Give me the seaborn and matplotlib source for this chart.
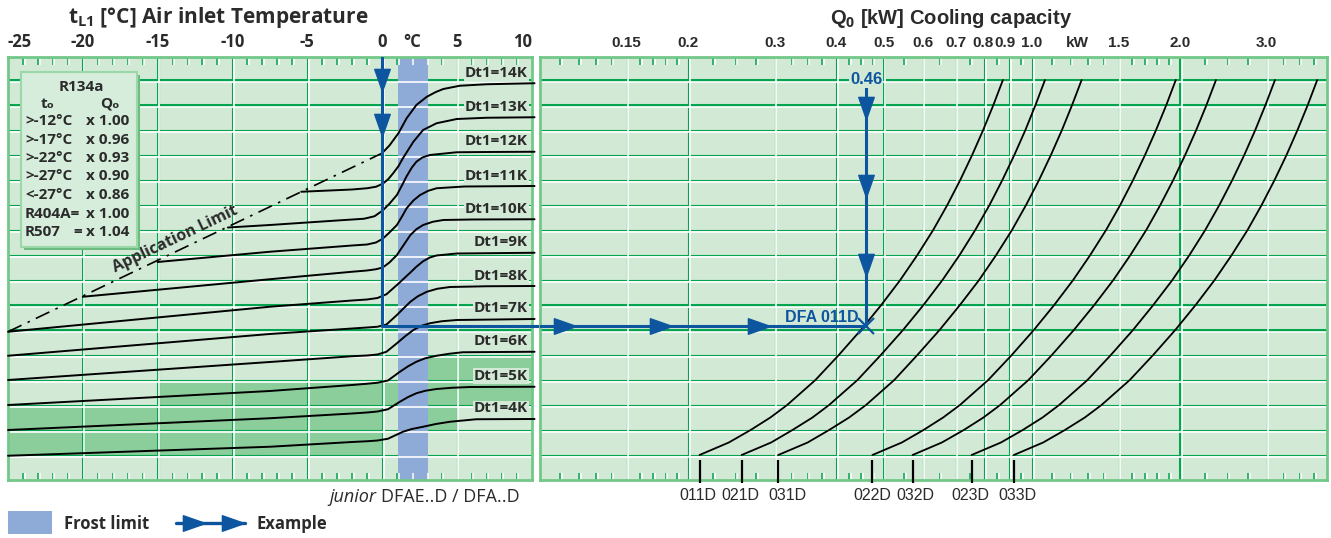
import numpy as np
import pandas as pd
import matplotlib
matplotlib.use("Agg")
import matplotlib.pyplot as plt
import matplotlib.transforms as mtransforms
from matplotlib.patches import Rectangle
from matplotlib.path import Path
from matplotlib.ticker import NullLocator
import seaborn as sns

# ---------------- values ----------------
temp_ticks = [-25, -20, -15, -10, -5, 0, 2, 5, 10]
temp_labels = ['-25', '-20', '-15', '-10', '-5', '0', '°C', '5', '10']
temp_grid = [-20, -15, -10, -5, 0, 5]

cap_ticks = [0.15, 0.2, 0.3, 0.4, 0.5, 0.6, 0.7, 0.795, 0.883, 1.0, 1.235, 1.5, 2.0, 3.0]
cap_labels = ['0.15', '0.2', '0.3', '0.4', '0.5', '0.6', '0.7', '0.8', '0.9', '1.0', 'kW', '1.5', '2.0', '3.0']
cap_grid = [0.15, 0.2, 0.3, 0.4, 0.5, 0.6, 0.7, 0.8, 0.9, 1.0, 1.5, 2.0, 3.0]

frost_limit = [1.1, 3.1]

# application limit (dash-dot)
app_t = [-25, 0]
app_y = [5.93, 13.07]

# Dt1 curves (air inlet temperature -> chart row)
dt_names = ['Dt1=14K', 'Dt1=13K', 'Dt1=12K', 'Dt1=11K', 'Dt1=10K', 'Dt1=9K',
            'Dt1=8K', 'Dt1=7K', 'Dt1=6K', 'Dt1=5K', 'Dt1=4K']
dt14_t = [0.0, 0.5, 1.1, 1.65, 2.3, 3.0, 3.6, 4.1, 5.2, 7.0, 10.2]
dt14_y = [13.07, 13.38, 13.87, 14.47, 15.00, 15.33, 15.52, 15.64, 15.77, 15.83, 15.87]
dt13_t = [-5.4, -2.0, -1.0, -0.4, 0.05, 0.4, 0.75, 1.1, 1.4, 1.75, 2.1, 2.75, 3.65, 5.0, 7.0, 10.2]
dt13_y = [11.53, 11.62, 11.67, 11.73, 11.85, 12.02, 12.27, 12.55, 12.87, 13.20, 13.53, 14.00, 14.27, 14.44, 14.49, 14.51]
dt12_t = [-10.3, -7.5, -3.0, -1.2, -0.5, 0.05, 0.5, 1.0, 1.35, 1.65, 2.0, 2.3, 2.7, 3.2, 5.0, 7.0, 10.2]
dt12_y = [10.10, 10.20, 10.38, 10.45, 10.55, 10.78, 11.05, 11.40, 11.80, 12.15, 12.50, 12.73, 12.90, 13.00, 13.11, 13.12, 13.13]
dt11_t = [-15.0, -7.5, -2.0, -1.0, -0.4, 0.05, 0.5, 1.0, 1.35, 1.65, 2.1, 2.55, 3.1, 3.65, 5.5, 10.2]
dt11_y = [8.72, 9.13, 9.38, 9.42, 9.50, 9.65, 9.90, 10.20, 10.55, 10.87, 11.18, 11.40, 11.57, 11.67, 11.74, 11.76]
dt10_t = [-20.0, -7.5, -2.0, -1.0, -0.4, 0.05, 0.5, 1.0, 1.45, 1.9, 2.3, 2.75, 3.4, 4.1, 6.0, 10.2]
dt10_y = [7.33, 8.03, 8.33, 8.38, 8.43, 8.50, 8.70, 9.00, 9.40, 9.80, 10.03, 10.20, 10.33, 10.40, 10.42, 10.43]
dt9_t = [-25.0, -7.5, -2.0, -1.0, -0.3, 0.3, 1.0, 1.45, 1.9, 2.3, 2.75, 3.2, 3.65, 5.0, 10.2]
dt9_y = [5.93, 6.93, 7.18, 7.22, 7.28, 7.43, 7.80, 8.05, 8.30, 8.53, 8.75, 8.90, 8.98, 9.06, 9.09]
dt8_t = [-25.0, -7.5, -2.0, -1.0, -0.3, 0.3, 1.0, 1.45, 1.9, 2.4, 3.0, 3.7, 4.55, 7.0, 10.2]
dt8_y = [4.97, 5.84, 6.06, 6.10, 6.13, 6.22, 6.60, 6.87, 7.13, 7.35, 7.53, 7.65, 7.72, 7.75, 7.76]
dt7_t = [-25.0, -7.5, -2.0, -1.0, -0.3, 0.3, 1.0, 1.55, 2.1, 2.6, 3.2, 4.0, 5.0, 10.2]
dt7_y = [4.00, 4.72, 4.95, 4.98, 5.02, 5.13, 5.47, 5.75, 6.00, 6.16, 6.27, 6.35, 6.40, 6.44]
dt6_t = [-25.0, -7.5, -2.0, -1.0, -0.3, 0.4, 1.2, 1.75, 2.3, 2.9, 3.65, 4.5, 5.4, 10.2]
dt6_y = [3.00, 3.56, 3.80, 3.85, 3.89, 3.98, 4.33, 4.55, 4.73, 4.87, 4.97, 5.05, 5.11, 5.13]
dt5_t = [-25.0, -7.5, -2.0, -1.0, -0.3, 0.4, 1.2, 1.75, 2.3, 2.9, 3.65, 4.7, 5.9, 10.2]
dt5_y = [2.00, 2.47, 2.66, 2.70, 2.74, 2.83, 3.13, 3.32, 3.47, 3.57, 3.64, 3.69, 3.72, 3.73]
dt4_t = [-25.0, -7.5, -2.0, -1.0, -0.3, 0.4, 1.4, 2.0, 2.75, 3.6, 4.55, 6.3, 10.2]
dt4_y = [0.97, 1.33, 1.52, 1.55, 1.58, 1.65, 1.93, 2.04, 2.13, 2.24, 2.33, 2.43, 2.44]

# darker green operating zones (temperature span x row span)
zone_t0 = [-25, -15, 0, 3.1, 5]
zone_t1 = [0, 0, 1.1, 5, 10.03]
zone_y0 = [1, 3, 3, 2, 3]
zone_y1 = [3, 4, 4, 5, 5]

# cooling capacity curves per unit (chart row -> Q0 kW)
cap_rows = [1, 1.5, 2, 2.5, 3, 4, 5, 6, 7, 8, 9, 10, 11, 12, 13, 14, 15, 16]
model_names = ['011D', '021D', '031D', '022D', '032D', '023D', '033D']
q_011d = [0.211, 0.242, 0.268, 0.294, 0.318, 0.363, 0.405, 0.449, 0.494, 0.540, 0.585, 0.630, 0.673, 0.715, 0.756, 0.796, 0.835, 0.873]
q_021d = [0.257, 0.295, 0.326, 0.358, 0.387, 0.442, 0.493, 0.547, 0.602, 0.658, 0.713, 0.767, 0.820, 0.871, 0.921, 0.970, 1.017, 1.063]
q_031d = [0.305, 0.350, 0.387, 0.425, 0.460, 0.525, 0.585, 0.649, 0.714, 0.781, 0.846, 0.911, 0.973, 1.034, 1.093, 1.151, 1.207, 1.262]
q_022d = [0.474, 0.544, 0.602, 0.660, 0.714, 0.815, 0.910, 1.009, 1.110, 1.213, 1.314, 1.415, 1.512, 1.606, 1.698, 1.788, 1.876, 1.961]
q_032d = [0.572, 0.656, 0.727, 0.797, 0.862, 0.984, 1.098, 1.217, 1.339, 1.464, 1.586, 1.708, 1.824, 1.938, 2.049, 2.158, 2.264, 2.367]
q_023d = [0.754, 0.865, 0.958, 1.051, 1.136, 1.297, 1.447, 1.605, 1.765, 1.930, 2.091, 2.251, 2.405, 2.555, 2.702, 2.845, 2.984, 3.120]
q_033d = [0.919, 1.054, 1.167, 1.281, 1.385, 1.581, 1.764, 1.956, 2.152, 2.352, 2.548, 2.744, 2.931, 3.114, 3.293, 3.467, 3.637, 3.802]

# worked example
ex_temp = 0
ex_row = 6.15
ex_q = 0.46
ex_unit = 'DFA 011D'

# refrigerant correction table
table_left = ['>-12°C', '>-17°C', '>-22°C', '>-27°C', '<-27°C', 'R404A=', 'R507']
table_right = ['x 1.00', 'x 0.96', 'x 0.93', 'x 0.90', 'x 0.86', 'x 1.00', 'x 1.04']

# ---------------- style ----------------
sns.set_style("white")
plt.rcParams['font.family'] = ['Open Sans', 'DejaVu Sans']
plt.rcParams['mathtext.fontset'] = 'custom'
plt.rcParams['mathtext.rm'] = 'Open Sans'
plt.rcParams['mathtext.bf'] = 'Open Sans:bold'
NARROW = ['Liberation Sans', 'DejaVu Sans']

CELL = '#d2e9d6'
DARK = '#8bcd9b'
GREEN = '#05a54f'
FROST = '#8eabd7'
BLUE = '#0d569f'
TXT = '#2b2b2b'

W, H = 1331, 538
fig = plt.figure(figsize=(W / 100, H / 100), dpi=100)
ax_l = fig.add_axes([8 / W, 58 / H, 524 / W, 423 / H])
ax_r = fig.add_axes([540 / W, 58 / H, 787 / W, 423 / H])
TOP = 16.92
ax_r.set_xscale('log')
ax_l.set_xlim(-25, 10.03)
ax_r.set_xlim(0.1, 3.98)
for ax in (ax_l, ax_r):
    ax.set_facecolor(CELL)
    ax.set_ylim(0, TOP)
    ax.set_yticks([])
    for s in ax.spines.values():
        s.set_color('#72c888')
        s.set_linewidth(2)


def grid_pairs(ax, xs, thick_x, rows, thick_rows, minor):
    tv = mtransforms.offset_copy(ax.transData, fig=fig, x=1.6, y=0, units='dots')
    th = mtransforms.offset_copy(ax.transData, fig=fig, x=0, y=-1.6, units='dots')
    for x in xs:
        ax.vlines(x, 0, TOP, color=GREEN, lw=2.2 if x in thick_x else 0.8, zorder=1.2)
        ax.vlines(x, 0, TOP, color='white', lw=1.2, zorder=2, transform=tv)
    x0, x1 = ax.get_xlim()
    for r in rows:
        ax.hlines(r, x0, x1, color=GREEN, lw=2.2 if r in thick_rows else 0.8, zorder=1.2)
        ax.hlines(r, x0, x1, color='white', lw=1.2, zorder=2, transform=th)
    for lo, hi in [(TOP - 0.32, TOP), (0, 0.3)]:
        ax.vlines(minor, lo, hi, color=GREEN, lw=1.1, zorder=1.2)
        ax.vlines(minor, lo, hi, color='white', lw=1.1, zorder=2, transform=tv)


rows = list(range(1, 17))
thick_rows = [6, 7, 15, 16]
minor_t = [t for t in range(-24, 10) if t % 5 != 0]
minor_q = [0.11, 0.12, 0.13, 0.14, 0.16, 0.17, 0.18, 0.19, 0.225, 0.25, 0.275,
           0.325, 0.35, 0.375, 0.425, 0.45, 0.475, 0.55, 0.65, 0.75, 0.85, 0.95,
           1.1, 1.2, 1.3, 1.4, 1.6, 1.7, 1.8, 1.9, 2.25, 2.5, 2.75, 3.25, 3.5, 3.75]

# zones and frost band
for a, b, c, d in zip(zone_t0, zone_t1, zone_y0, zone_y1):
    ax_l.add_patch(Rectangle((a, c), b - a, d - c, color=DARK, lw=0, zorder=1))
grid_pairs(ax_l, temp_grid, [-20, -15], rows, thick_rows, minor_t)
grid_pairs(ax_r, cap_grid, [0.5, 2.0], rows, thick_rows, minor_q)
ax_l.axvspan(frost_limit[0], frost_limit[1], color=FROST, lw=0, zorder=1.5)

# ---------------- left: Dt1 curves ----------------
dt_curves = [(dt14_t, dt14_y), (dt13_t, dt13_y), (dt12_t, dt12_y), (dt11_t, dt11_y),
             (dt10_t, dt10_y), (dt9_t, dt9_y), (dt8_t, dt8_y), (dt7_t, dt7_y),
             (dt6_t, dt6_y), (dt5_t, dt5_y), (dt4_t, dt4_y)]
for name, (tt, yy) in zip(dt_names, dt_curves):
    sns.lineplot(x=tt, y=yy, ax=ax_l, color='black', lw=1.4, sort=False,
                 estimator=None, zorder=3)
    ax_l.lines[-1].set_clip_on(False)
    ax_l.text(9.75, yy[-1] + 0.42, name, ha='right', va='center', fontsize=11,
              fontweight='bold', color=TXT, zorder=5,
              bbox=dict(facecolor=CELL, edgecolor='none', pad=0.5))

sns.lineplot(x=app_t, y=app_y, ax=ax_l, color='black', lw=1.2,
             linestyle=(0, (9, 4, 1.5, 4)), zorder=3)
ax_l.text(-13.8, 9.62, 'Application Limit', rotation=25.5, rotation_mode='anchor',
          ha='center', va='center', fontsize=11.5, fontweight='bold', color=TXT, zorder=5)

# ---------------- right: capacity curves ----------------
model_caps = [q_011d, q_021d, q_031d, q_022d, q_032d, q_023d, q_033d]
label_shift = [-1.5, -1, 9, 0, 3, -1, 4]   # px nudges of the unit names
for name, q, dx in zip(model_names, model_caps, label_shift):
    sns.lineplot(x=q, y=cap_rows, ax=ax_r, color='black', lw=1.3, sort=False,
                 estimator=None, zorder=3)
    ax_r.vlines(q[0], -0.12, 0.8, color='black', lw=1.6, clip_on=False, zorder=3)
    tr = mtransforms.offset_copy(ax_r.transData, fig=fig, x=dx, y=0, units='dots')
    ax_r.text(q[0], -0.62, name, ha='center', va='center', fontsize=11.5,
              family=NARROW, color=TXT, clip_on=False, transform=tr)

# ---------------- example path ----------------
down = Path([(-0.42, 0.6), (0.42, 0.6), (0, -0.6), (-0.42, 0.6)],
            [Path.MOVETO, Path.LINETO, Path.LINETO, Path.CLOSEPOLY])
right = Path([(-0.6, -0.42), (-0.6, 0.42), (0.6, 0), (-0.6, -0.42)],
             [Path.MOVETO, Path.LINETO, Path.LINETO, Path.CLOSEPOLY])
ax_l.plot([ex_temp, ex_temp], [TOP, ex_row], color=BLUE, lw=2.2, zorder=4)
ax_l.plot([ex_temp, 10.56], [ex_row, ex_row], color=BLUE, lw=2.2, zorder=4, clip_on=False)
ax_l.plot([ex_temp, ex_temp], [16.0, 14.2], ls='none', marker=down, ms=16,
          color=BLUE, zorder=4)
ax_r.plot([0.1, ex_q], [ex_row, ex_row], color=BLUE, lw=2.2, zorder=4)
ax_r.plot([ex_q, ex_q], [15.7, ex_row], color=BLUE, lw=2.2, zorder=4)
ax_r.plot([0.1124, 0.1762, 0.2787], [ex_row] * 3, ls='none', marker=right, ms=16,
          color=BLUE, zorder=4)
ax_r.plot([ex_q] * 3, [14.9, 11.76, 8.62], ls='none', marker=down, ms=16,
          color=BLUE, zorder=4)
ax_r.plot([ex_q], [ex_row], ls='none', marker='x', ms=11, mew=1.6, color=BLUE, zorder=4)
ax_r.text(ex_q, 16.02, f'{ex_q:.2f}', ha='center', va='center', fontsize=12,
          fontweight='bold', family=NARROW, color=BLUE, zorder=5,
          bbox=dict(facecolor=CELL, edgecolor='none', pad=0.8))
ax_r.text(ex_q * 0.965, ex_row + 0.36, ex_unit, ha='right', va='center', fontsize=11.5,
          fontweight='bold', family=NARROW, color=BLUE, zorder=5)

# ---------------- axes ticks / titles ----------------
ax_l.xaxis.tick_top()
ax_l.set_xticks(temp_ticks)
ax_l.set_xticklabels(temp_labels)
ax_r.xaxis.tick_top()
ax_r.xaxis.set_minor_locator(NullLocator())
ax_r.set_xticks(cap_ticks)
ax_r.set_xticklabels(cap_labels)
ax_l.tick_params(axis='x', length=0, pad=4, labelsize=12, colors=TXT)
ax_r.tick_params(axis='x', length=0, pad=5, labelsize=11, colors=TXT)
for ax in (ax_l, ax_r):
    for lbl in ax.get_xticklabels():
        lbl.set_fontweight('bold')
ax_l.get_xticklabels()[0].set_ha('left')
ax_l.get_xticklabels()[-1].set_ha('right')
for lbl in ax_r.get_xticklabels():
    lbl.set_family(NARROW)

ov = fig.add_axes([0, 0, 1, 1], zorder=10)
ov.set_xlim(0, W)
ov.set_ylim(H, 0)
ov.axis('off')
ov.patch.set_alpha(0)

ov.text(218, 18, r't$_{\mathbf{L1}}$ [°C] Air inlet Temperature', ha='center', va='center',
        fontsize=15, fontweight='bold', color=TXT)
ov.text(951, 18, r'Q$_{\mathbf{0}}$ [kW] Cooling capacity', ha='center', va='center',
        fontsize=14.5, fontweight='bold', family=NARROW, color=TXT)

# correction table box
ov.add_patch(Rectangle((24, 75), 116, 175, color='#6dbb80', lw=0))
ov.add_patch(Rectangle((21, 72), 116, 175, facecolor='#d5edda', edgecolor='#9bd8a8', lw=1.5))
ov.text(81, 87, 'R134a', ha='center', va='center', fontsize=11, fontweight='bold', color=TXT)
ov.text(48, 104, 'tₒ', ha='center', va='center', fontsize=11, fontweight='bold',
        color=TXT, family=['Open Sans', 'DejaVu Sans'])
ov.text(110, 104, 'Qₒ', ha='center', va='center', fontsize=11, fontweight='bold',
        color=TXT, family=['Open Sans', 'DejaVu Sans'])
for i, (lt, rt) in enumerate(zip(table_left, table_right)):
    yy = 121 + i * 18.5
    ov.text(25, yy, lt, ha='left', va='center', fontsize=11, fontweight='bold', color=TXT)
    ov.text(86, yy, rt, ha='left', va='center', fontsize=11, fontweight='bold', color=TXT)
ov.text(82, 121 + 6 * 18.5, '=', ha='right', va='center', fontsize=11,
        fontweight='bold', color=TXT)

# series name
rt_ = ov.text(520, 497, 'DFAE..D / DFA..D', ha='right', va='center', fontsize=13, color=TXT)
fig.canvas.draw()
bb = rt_.get_window_extent()
ov.text(520 - bb.width - 5, 497, 'junior', ha='right', va='center', fontsize=13,
        style='italic', color=TXT)

# legend
ov.add_patch(Rectangle((8, 511), 44, 23, color=FROST, lw=0))
ov.text(64, 524, 'Frost limit', ha='left', va='center', fontsize=12, fontweight='bold', color=TXT)
ov.plot([176, 245], [523, 523], color=BLUE, lw=2.4)
ov.plot([194, 233], [523, 523], ls='none', marker=right, ms=16, color=BLUE)
ov.text(256, 524, 'Example', ha='left', va='center', fontsize=12, fontweight='bold', color=TXT)

fig.savefig('out.png', dpi=100)
